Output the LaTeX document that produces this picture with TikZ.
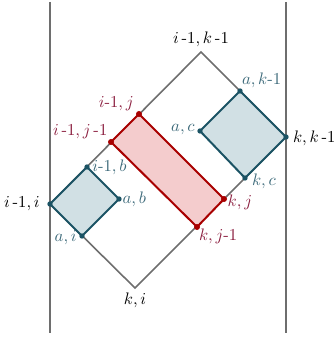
\documentclass[tikz,border=0pt]{standalone}
\usepackage{amsmath}
\definecolor{bline}{HTML}{1B5364}
\definecolor{bfill}{HTML}{D1E0E4}
\definecolor{btext}{HTML}{3D6A7A}
\definecolor{rline}{HTML}{A80000}
\definecolor{rfill}{HTML}{F4CCCD}
\definecolor{rtext}{HTML}{8B1E3F}
\definecolor{gline}{HTML}{6E6E6E}
\newcommand{\mh}{\text{-}}
\tikzset{
  wall/.style={draw=gline, line width=1.8pt*0.6},
  frame/.style={draw=gline, line width=1.6pt*0.6},
  bbox/.style={draw=bline, fill=bfill, line width=2pt*0.6, line join=round},
  rbox/.style={draw=rline, fill=rfill, line width=2pt*0.6, line join=round},
  bdot/.style={circle, fill=bline, inner sep=0pt, minimum size=3.2pt},
  rdot/.style={circle, fill=rline, inner sep=0pt, minimum size=3.6pt},
  blab/.style={text=btext, inner sep=1pt},
  rlab/.style={text=rtext, inner sep=1pt},
  klab/.style={text=black, inner sep=1pt},
}
\begin{document}
\begin{tikzpicture}[x=0.6pt, y=-0.6pt]
\useasboundingbox (0,0) rectangle (335,338);
% walls
\coordinate (wl1) at (50,2); \coordinate (wl2) at (50,333);
\coordinate (wr1) at (286,2); \coordinate (wr2) at (286,333);
\draw[wall] (wl1) -- (wl2);
\draw[wall] (wr1) -- (wr2);
% big diamond corners
\coordinate (T) at (201,52);
\coordinate (L) at (50,204);
\coordinate (B) at (135,288);
\coordinate (R) at (286,137);
\draw[frame] (T) -- (R) -- (B) -- (L) -- cycle;
% lower-left blue box
\coordinate (b1t) at (87,167);
\coordinate (b1r) at (119,199);
\coordinate (b1b) at (82,236);
\path[bbox] (L) -- (b1t) -- (b1r) -- (b1b) -- cycle;
% upper-right blue box
\coordinate (b2t) at (240,91);
\coordinate (b2l) at (200,131);
\coordinate (b2b) at (245,178);
\path[bbox] (b2t) -- (R) -- (b2b) -- (b2l) -- cycle;
% red box
\coordinate (rt) at (139,114);
\coordinate (rl) at (111,142);
\coordinate (rb) at (197,227);
\coordinate (rr) at (224,199);
\path[rbox] (rt) -- (rr) -- (rb) -- (rl) -- cycle;
% dots
\node[bdot] (dL) at (L) {};
\node[bdot] (dR) at (R) {};
\node[bdot] (d1t) at (b1t) {};
\node[bdot] (d1r) at (b1r) {};
\node[bdot] (d1b) at (b1b) {};
\node[bdot] (d2t) at (b2t) {};
\node[bdot] (d2l) at (b2l) {};
\node[bdot] (d2b) at (b2b) {};
\node[rdot] (drt) at (rt) {};
\node[rdot] (drl) at (rl) {};
\node[rdot] (drb) at (rb) {};
\node[rdot] (drr) at (rr) {};
% labels
\node[klab, anchor=south] (lT) at ([yshift=2pt]T) {$i\,\mh1, k\,\mh1$};
\node[klab, anchor=north] (lB) at ([yshift=-1.5pt]B) {$k, i$};
\node[klab, anchor=east] (lL) at ([xshift=-5pt]L) {$i\,\mh1, i$};
\node[klab, anchor=west] (lR) at ([xshift=3pt,yshift=-1pt]R) {$k, k\,\mh1$};
\node[blab, anchor=south west] (l2t) at ([xshift=0pt,yshift=1pt]b2t) {$a, k\mh1$};
\node[blab, anchor=east] (l2l) at ([xshift=-2pt,yshift=1pt]b2l) {$a, c$};
\node[blab, anchor=west] (l2b) at ([xshift=3pt,yshift=-2pt]b2b) {$k, c$};
\node[blab, anchor=west] (l1t) at ([xshift=2pt]b1t) {$i\mh1, b$};
\node[blab, anchor=west] (l1r) at ([xshift=1pt]b1r) {$a, b$};
\node[blab, anchor=east] (l1b) at ([xshift=-2pt,yshift=-1pt]b1b) {$a, i$};
\node[rlab, anchor=south east] (lrt) at ([xshift=-2pt,yshift=1pt]rt) {$i\mh1, j$};
\node[rlab, anchor=south east] (lrl) at ([xshift=-1pt,yshift=1pt]rl) {$i\,\mh1, j\,\mh1$};
\node[rlab, anchor=west] (lrr) at ([xshift=1pt,yshift=-2pt]rr) {$k, j$};
\node[rlab, anchor=north west] (lrb) at ([xshift=0pt,yshift=0pt]rb) {$k, j\mh1$};
\end{tikzpicture}
\end{document}
